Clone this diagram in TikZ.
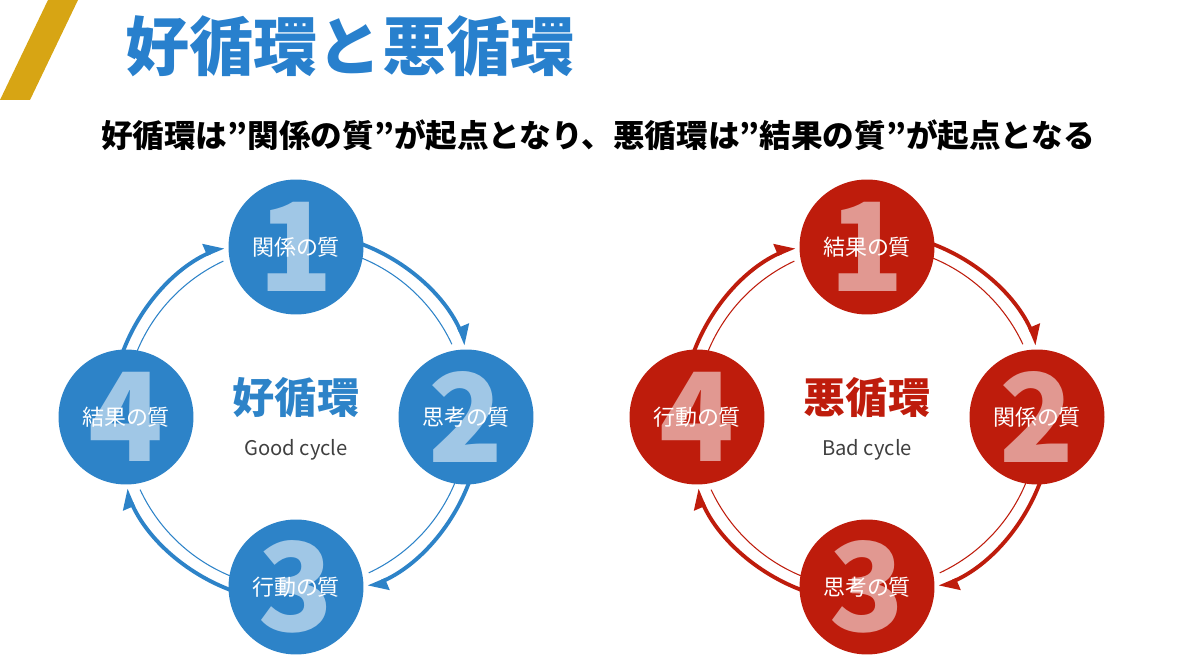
\documentclass[tikz,border=0pt]{standalone}
\usepackage{fontspec}
\setmainfont{Noto Sans CJK JP}
\usetikzlibrary{arrows.meta,calc}
\definecolor{goodblue}{RGB}{45,131,200}
\definecolor{badred}{RGB}{190,28,12}
\definecolor{titleblue}{RGB}{40,128,205}
\definecolor{gold}{RGB}{215,165,20}
\tikzset{
  ball/.style={circle, fill=#1, minimum size=2.7cm, inner sep=0pt},
  digit/.style={text=white, opacity=0.55, font=\fontsize{70}{70}\bfseries\selectfont},
  qlabel/.style={text=white, font=\fontsize{12.5}{13}\selectfont},
  thick arc/.style={#1, line width=2.2pt, -{Triangle[harpoon, length=9pt, width=12pt]}},
  thin arc/.style={#1, line width=0.6pt}
}
\begin{document}
\begin{tikzpicture}[x=0.02cm, y=0.02cm]
  \useasboundingbox (0,0) rectangle (1200,668);
  % header
  \fill[gold] (0,568) -- (30,568) -- (78,668) -- (48,668) -- cycle;
  \node[text=titleblue, font=\fontsize{36.5}{37}\bfseries\selectfont] (title) at (350,622) {好循環と悪循環};
  \node[font=\fontsize{18}{18}\bfseries\selectfont] (subtitle) at (598,533)
    {好循環は”関係の質”が起点となり、悪循環は”結果の質”が起点となる};
  % two cycles
  \foreach \cx/\col/\name/\eng/\qa/\qb/\qc/\qd in
    {296/goodblue/好循環/Good cycle/関係の質/思考の質/行動の質/結果の質,
     867/badred/悪循環/Bad cycle/結果の質/関係の質/思考の質/行動の質}{
    \node[text=\col, font=\fontsize{24}{24}\bfseries\selectfont] (name) at (\cx,270) {\name};
    \node[text=black!75, font=\fontsize{11.5}{12}\selectfont] (eng) at (\cx,218) {\eng};
    \foreach \n/\ang/\q in {1/90/\qa, 2/0/\qb, 3/-90/\qc, 4/180/\qd}{
      \node[ball=\col] (c\n) at ($(\cx,251)+(\ang:170)$) {};
      \node[digit] (d\n) at (c\n) {\n};
      \node[qlabel] (q\n) at (c\n) {\q};
    }
    \foreach \a in {70,-20,-110,160}{
      \draw[thin arc=\col] ($(\cx,251)+(\a:172)$) arc[start angle=\a, end angle=\a-45, radius=172];
      \draw[thick arc=\col] ($(\cx,251)+(\a+2:185)$) arc[start angle=\a+2, end angle=\a-47, radius=185];
    }
  }
\end{tikzpicture}
\end{document}
